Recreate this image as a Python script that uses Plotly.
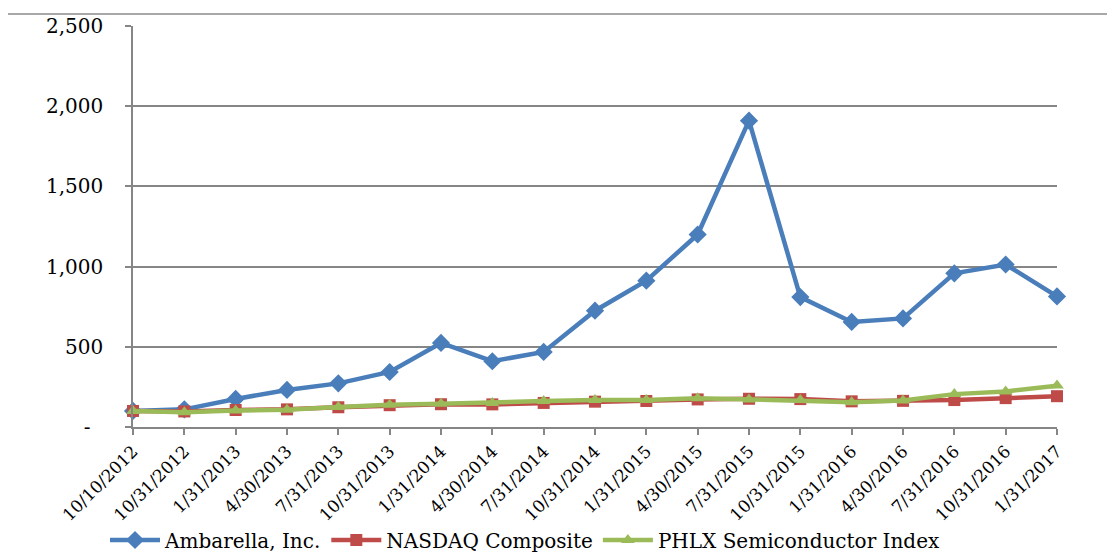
import plotly.graph_objects as go

dates = ["10/10/2012", "10/31/2012", "1/31/2013", "4/30/2013", "7/31/2013", "10/31/2013",
         "1/31/2014", "4/30/2014", "7/31/2014", "10/31/2014", "1/31/2015", "4/30/2015",
         "7/31/2015", "10/31/2015", "1/31/2016", "4/30/2016", "7/31/2016", "10/31/2016",
         "1/31/2017"]
ambarella = [100, 110, 175, 231, 272, 343, 524, 410, 468, 725, 912, 1200,
             1910, 810, 655, 677, 958, 1013, 814]
nasdaq = [100, 97, 106, 110, 123, 136, 142, 141, 150, 158, 162, 172,
          176, 174, 160, 163, 168, 180, 192]
phlx = [100, 92, 103, 108, 124, 138, 145, 150, 162, 168, 168, 180,
        172, 168, 155, 165, 205, 222, 258]
series_names = ["Ambarella, Inc.", "NASDAQ Composite", "PHLX Semiconductor Index"]
y_ticks = [0, 500, 1000, 1500, 2000, 2500]
y_ticktext = ["-\u00a0\u00a0", "500", "1,000", "1,500", "2,000", "2,500"]

FONT = "DejaVu Serif"
fig = go.Figure()
styles = [
    ("#4A7EBB", "diamond", 14),
    ("#BE4B48", "square", 12),
    ("#9BBB59", "triangle-up", 12),
]
for name, vals, (col, sym, sz) in zip(series_names, [ambarella, nasdaq, phlx], styles):
    fig.add_trace(go.Scatter(
        x=dates, y=vals, name=name, mode="lines+markers",
        line=dict(color=col, width=4.5),
        marker=dict(color=col, symbol=sym, size=sz),
        cliponaxis=False,
    ))

# page has an 8px body margin: positions below are reference pixels minus 8
OFF = 8
W, H = 1115, 554
L = 133 - OFF
T = 26 - OFF
R = W - (1057 - OFF)
B = H - (427 - OFF)
pw, ph = W - L - R, H - T - B

fig.update_layout(
    width=W, height=H,
    margin=dict(l=L, r=R, t=T, b=B, autoexpand=False),
    paper_bgcolor="white", plot_bgcolor="white",
    font=dict(family=FONT, size=19, color="#000000"),
    showlegend=True,
    legend=dict(
        orientation="h", xref="container", x=(105 - OFF) / W, xanchor="left",
        yref="container", y=1 - (540 - OFF) / H, yanchor="middle",
        font=dict(family=FONT, size=20, color="#000000"),
        bgcolor="rgba(0,0,0,0)", itemwidth=50, tracegroupgap=0,
    ),
    xaxis=dict(
        type="category", range=[0, len(dates) - 1], automargin=False,
        tickmode="array", tickvals=dates, ticktext=dates,
        tickangle=-45, showgrid=False, zeroline=False,
        showline=True, linecolor="#868686", linewidth=1.5,
        ticks="outside", ticklen=6, tickcolor="#868686", tickwidth=1.5,
        tickfont=dict(family=FONT, size=17, color="#000000"),
    ),
    yaxis=dict(
        range=[0, 2500], automargin=False,
        tickmode="array", tickvals=y_ticks, ticktext=y_ticktext,
        showgrid=True, gridcolor="#868686", gridwidth=1.5, zeroline=False,
        showline=True, linecolor="#868686", linewidth=1.5,
        ticks="outside", ticklen=6, tickcolor="#868686", tickwidth=1.5,
        ticklabelstandoff=18,
        tickfont=dict(family=FONT, size=20, color="#000000"),
    ),
    shapes=[dict(
        type="rect", xref="paper", yref="paper",
        x0=(7 - OFF - L) / pw, x1=1.2, y0=-0.6, y1=(427 - 14) / ph,
        line=dict(color="#8c8c8c", width=1.5), fillcolor="rgba(0,0,0,0)", layer="below",
    )],
)

fig.write_html("out.html")
